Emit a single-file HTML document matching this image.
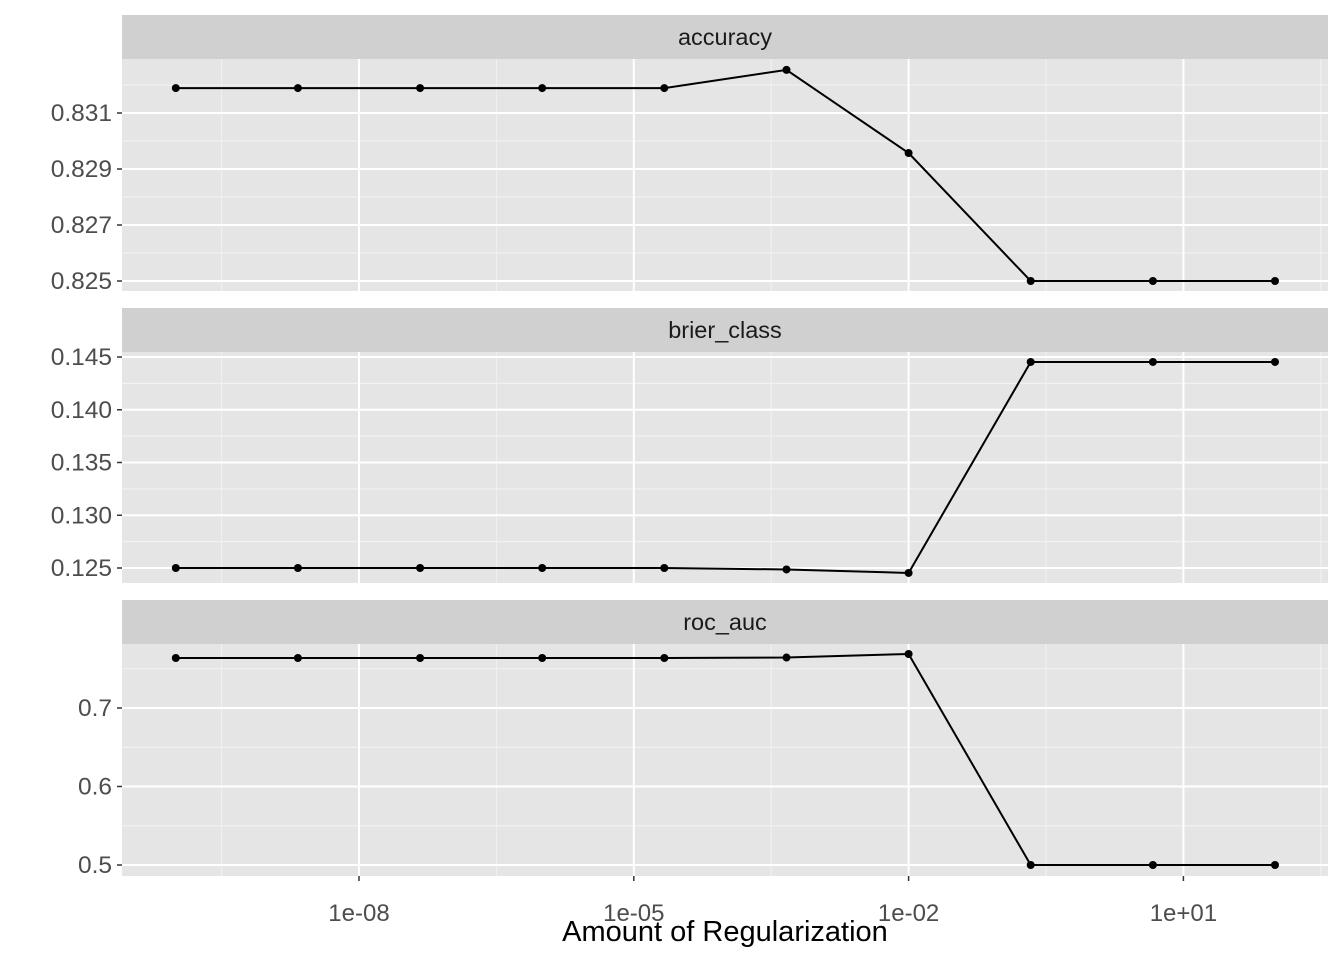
<!DOCTYPE html>
<html><head><meta charset="utf-8"><style>
body{margin:0;background:#fff}
svg text{font-family:"Liberation Sans",Arial,sans-serif}
</style></head><body>
<svg id="chart" width="1344" height="960" xmlns="http://www.w3.org/2000/svg"></svg>
<script>
const logPenalty = [-10, -8.667, -7.333, -6, -4.667, -3.333, -2, -0.667, 0.667, 2];
const accuracyValues = [0.83189, 0.83189, 0.83189, 0.83189, 0.83189, 0.83254, 0.82957, 0.825, 0.825, 0.825];
const brierValues = [0.125, 0.125, 0.125, 0.125, 0.125, 0.12486, 0.12453, 0.14453, 0.14453, 0.14453];
const rocValues = [0.7637, 0.7637, 0.7637, 0.7637, 0.7637, 0.7643, 0.7688, 0.5, 0.5, 0.5];
const xTickLogs = [-8, -5, -2, 1];
const xTickLabels = ["1e-08", "1e-05", "1e-02", "1e+01"];
const accTicks = [0.825, 0.827, 0.829, 0.831];
const brierTicks = [0.125, 0.130, 0.135, 0.140, 0.145];
const rocTicks = [0.5, 0.6, 0.7];

const NS = "http://www.w3.org/2000/svg";
const svg = document.getElementById('chart');
function el(tag, attrs, parent) {
  const e = document.createElementNS(NS, tag);
  for (const k in attrs) e.setAttribute(k, attrs[k]);
  (parent || svg).appendChild(e);
  return e;
}
const PX0 = 122, PX1 = 1328;
const xScale = v => 359 + (v + 8) * 91.6;

const panels = [
  {name: 'accuracy', vals: accuracyValues, ticks: accTicks, fmt: v => v.toFixed(3), sTop: 15, pTop: 59, pBot: 291, yAt: v => 281 - (v - 0.825) * 28000},
  {name: 'brier_class', vals: brierValues, ticks: brierTicks, fmt: v => v.toFixed(3), sTop: 308, pTop: 352, pBot: 583, yAt: v => 568 - (v - 0.125) * 10550},
  {name: 'roc_auc', vals: rocValues, ticks: rocTicks, fmt: v => v.toFixed(1), sTop: 600, pTop: 644, pBot: 876, yAt: v => 865 - (v - 0.5) * 785}
];

panels.forEach((p, pi) => {
  const g = el('g', {});
  
  
  const strip = el('rect', {x: PX0, y: p.sTop, width: PX1 - PX0, height: p.pTop - p.sTop, fill: '#d0d0d0'}, g);
  
  
  const st = el('text', {x: (PX0 + PX1) / 2, y: p.sTop + 30, 'text-anchor': 'middle', 'font-size': 23.5, fill: '#1a1a1a'}, g);
  st.textContent = p.name;
  
  
  el('rect', {x: PX0, y: p.pTop, width: PX1 - PX0, height: p.pBot - p.pTop, fill: '#e5e5e5'}, g);
  for (let i = 0; i < p.ticks.length; i++) {
    const step = p.ticks[1] - p.ticks[0];
    [p.ticks[i] - step / 2, p.ticks[i] + step / 2].forEach(m => {
      const y = p.yAt(m);
      if (y > p.pTop && y < p.pBot) el('line', {x1: PX0, x2: PX1, y1: y, y2: y, stroke: '#f2f2f2', 'stroke-width': 1}, g);
    });
  }
  xTickLogs.concat([-11]).forEach(t => {
    const x = xScale(t + 1.5);
    if (x > PX0 && x < PX1) el('line', {x1: x, x2: x, y1: p.pTop, y2: p.pBot, stroke: '#f2f2f2', 'stroke-width': 1}, g);
  });
  p.ticks.forEach(t => {
    const y = p.yAt(t);
    el('line', {x1: PX0, x2: PX1, y1: y, y2: y, stroke: '#fff', 'stroke-width': 2}, g);
    el('line', {x1: 117, x2: PX0, y1: y, y2: y, stroke: '#333', 'stroke-width': 1.5}, g);
    const tl = el('text', {x: 112, y: y + 8, 'text-anchor': 'end', 'font-size': 24.5, fill: '#4d4d4d'}, g);
    tl.textContent = p.fmt(t);
    
    
  });
  xTickLogs.forEach(t => {
    const x = xScale(t);
    el('line', {x1: x, x2: x, y1: p.pTop, y2: p.pBot, stroke: '#fff', 'stroke-width': 2}, g);
  });
  const pts = logPenalty.map((lv, i) => [xScale(lv), p.yAt(p.vals[i])]);
  const line = el('polyline', {points: pts.map(q => q.join(',')).join(' '), fill: 'none', stroke: '#000', 'stroke-width': 2}, g);
  
  
  pts.forEach(q => {
    const c = el('circle', {cx: q[0], cy: q[1], r: 4, fill: '#000'}, g);
    
    
  });
});

xTickLogs.forEach((t, i) => {
  const x = xScale(t);
  el('line', {x1: x, x2: x, y1: 876, y2: 881, stroke: '#333', 'stroke-width': 1.5});
  const tl = el('text', {x: x, y: 921, 'text-anchor': 'middle', 'font-size': 24, fill: '#4d4d4d'});
  tl.textContent = xTickLabels[i];
  
  
});
const title = el('text', {x: 725, y: 941, 'text-anchor': 'middle', 'font-size': 29, fill: '#000'});
title.textContent = 'Amount of Regularization';


</script>
</body></html>
